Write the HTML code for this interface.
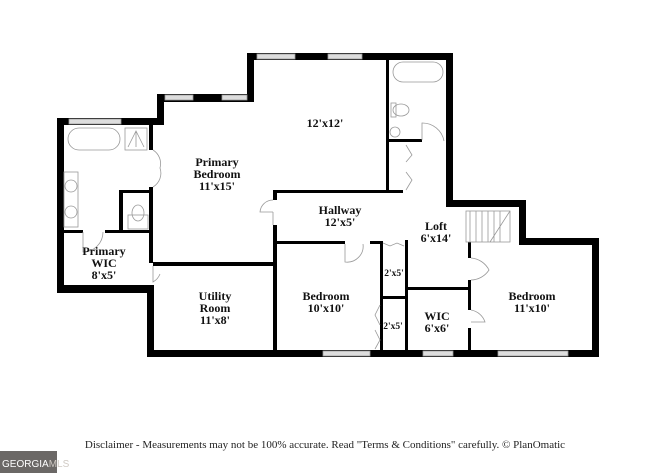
<!DOCTYPE html>
<html><head><meta charset="utf-8"><style>
html,body{margin:0;padding:0;background:#fff;width:650px;height:473px;overflow:hidden}
svg{display:block}
.t{font-family:"Liberation Serif",serif;font-weight:bold;font-size:12px;fill:#111;text-anchor:middle}
</style></head><body>
<svg width="650" height="473" viewBox="0 0 650 473">
<g fill="#000">
<rect x="57" y="118" width="7" height="175"/>
<rect x="57" y="118" width="107" height="7"/>
<rect x="157" y="94" width="7" height="31"/>
<rect x="157" y="94" width="97" height="8"/>
<rect x="247" y="53" width="7" height="49"/>
<rect x="247" y="53" width="206" height="7"/>
<rect x="446" y="53" width="7" height="154"/>
<rect x="446" y="200" width="80" height="7"/>
<rect x="519" y="200" width="7" height="45"/>
<rect x="519" y="238" width="80" height="7"/>
<rect x="592" y="238" width="7" height="119"/>
<rect x="147" y="350" width="452" height="7"/>
<rect x="147" y="285" width="7" height="72"/>
<rect x="57" y="285" width="97" height="8"/>
<rect x="149" y="125" width="4" height="25"/>
<rect x="149" y="187" width="4" height="76"/>
<rect x="119" y="190" width="4" height="42"/>
<rect x="119" y="190" width="34" height="3"/>
<rect x="64" y="230" width="19" height="3"/>
<rect x="105" y="230" width="48" height="3"/>
<rect x="153" y="262" width="124" height="4"/>
<rect x="273" y="190" width="4" height="10"/>
<rect x="273" y="225" width="4" height="125"/>
<rect x="273" y="190" width="130" height="3"/>
<rect x="277" y="241" width="68" height="3"/>
<rect x="370" y="241" width="13" height="3"/>
<rect x="386" y="60" width="3" height="130"/>
<rect x="389" y="139" width="33" height="3"/>
<rect x="380" y="241" width="3" height="109"/>
<rect x="405" y="240" width="3" height="110"/>
<rect x="380" y="296" width="28" height="3"/>
<rect x="408" y="287" width="62" height="3"/>
<rect x="468" y="242" width="3" height="16"/>
<rect x="468" y="280" width="3" height="30"/>
<rect x="468" y="328" width="3" height="22"/>
</g>
<g fill="#ddd" stroke="#999" stroke-width="0.8">
<rect x="69" y="119" width="52" height="5"/>
<rect x="165" y="95" width="28" height="5"/>
<rect x="222" y="95" width="25" height="5"/>
<rect x="257" y="54" width="38" height="5"/>
<rect x="328" y="54" width="34" height="5"/>
<rect x="323" y="351" width="47" height="5"/>
<rect x="423" y="351" width="30" height="5"/>
<rect x="498" y="351" width="70" height="5"/>
</g>
<g fill="none" stroke="#999" stroke-width="0.8">
<rect x="68" y="128" width="52" height="22" rx="11"/>
<rect x="125" y="128" width="22" height="22"/>
<path d="M128 147 L136 131 L144 147 M136 131 V147"/>
<rect x="64" y="172" width="14" height="55"/>
<circle cx="71" cy="186" r="6"/><circle cx="71" cy="212" r="6"/>
<rect x="128" y="215" width="20" height="14"/>
<ellipse cx="138" cy="213" rx="6" ry="8"/>
<path d="M153 150 A16 16 0 0 1 160 168 A16 16 0 0 1 153 187"/>
<path d="M83 232 V252 A20 20 0 0 0 103 232"/>
<path d="M153 266 V282 A16 16 0 0 0 160 274"/>
<path d="M273 200 A13 13 0 0 0 260 212 H273 M273 225 V212"/>
<path d="M345 244 V262 A16 16 0 0 0 363 244"/>
<rect x="393" y="62" width="50" height="20" rx="10"/>
<ellipse cx="401" cy="110" rx="8" ry="6"/><rect x="391" y="103" width="5" height="14"/>
<circle cx="395" cy="132" r="5"/>
<path d="M422 140 V123 A22 22 0 0 1 444 141"/>
<path d="M406 145 L412 155 L406 162 M406 172 L412 180 L406 190"/>
<rect x="466" y="211" width="44" height="31"/>
<path d="M470 211 V242 M476 211 V242 M482 211 V242 M488 211 V242 M494 211 V242 M500 211 V242 M510 211 L490 242"/>
<path d="M383 243 L390 246 L397 243 L404 246"/>
<path d="M471 258 A22 22 0 0 1 489 270 A22 22 0 0 1 471 280"/>
<path d="M471 310 A18 18 0 0 1 485 322 H471"/>
<path d="M380 305 L375 315 L380 325 M375 330 L380 340 L375 349"/>
</g>
<text class="t" x="325" y="127">12'x12'</text>
<text class="t" x="217" y="166">Primary</text>
<text class="t" x="217" y="178">Bedroom</text>
<text class="t" x="217" y="190">11'x15'</text>
<text class="t" x="340" y="214">Hallway</text>
<text class="t" x="340" y="226">12'x5'</text>
<text class="t" x="436" y="230">Loft</text>
<text class="t" x="436" y="242">6'x14'</text>
<text class="t" x="104" y="255">Primary</text>
<text class="t" x="104" y="267">WIC</text>
<text class="t" x="104" y="279">8'x5'</text>
<text class="t" x="215" y="300">Utility</text>
<text class="t" x="215" y="312">Room</text>
<text class="t" x="215" y="324">11'x8'</text>
<text class="t" x="326" y="300">Bedroom</text>
<text class="t" x="326" y="312">10'x10'</text>
<text class="t" x="394" y="276" style="font-size:9.5px">2'x5'</text>
<text class="t" x="393" y="329" style="font-size:9.5px">2'x5'</text>
<text class="t" x="437" y="320">WIC</text>
<text class="t" x="437" y="332">6'x6'</text>
<text class="t" x="532" y="300">Bedroom</text>
<text class="t" x="532" y="312">11'x10'</text>
<text x="325" y="448" style="font-family:'Liberation Serif',serif;font-size:11px;fill:#222;text-anchor:middle">Disclaimer - Measurements may not be 100% accurate. Read "Terms &amp; Conditions" carefully. © PlanOmatic</text>
<rect x="0" y="451" width="57" height="22" fill="#6b6866"/>
<text x="2" y="467" style="font-family:'Liberation Sans',sans-serif;font-size:10px;fill:#fff">GEORGIA<tspan fill="#cfc9c3">MLS</tspan></text>
</svg>
</body></html>
